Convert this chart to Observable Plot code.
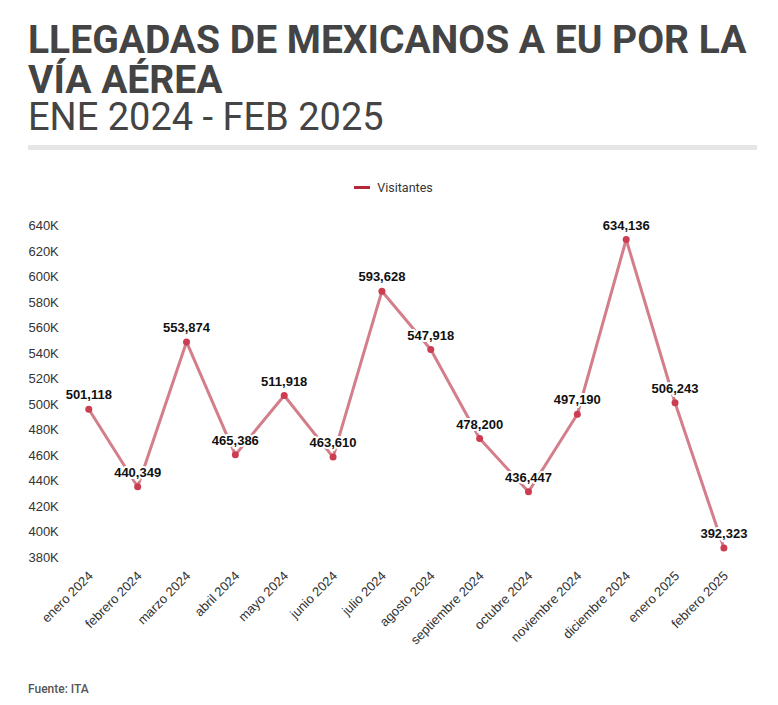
<!DOCTYPE html>
<html>
<head>
<meta charset="utf-8">
<script src="https://cdn.jsdelivr.net/npm/d3@7"></script>
<script src="https://cdn.jsdelivr.net/npm/@observablehq/plot@0.6"></script>
<style>
  body { margin: 0; background: #fff; font-family: Roboto, sans-serif; }
  #page { width: 778px; }
  header { padding: 19.5px 0 0 28px; color: #444; }
  .title { height: 40px; font: 700 39px/40px Roboto, sans-serif; white-space: nowrap; }
  .subtitle { height: 35px; font: 400 38px/35px Roboto, sans-serif; white-space: nowrap; }
  .rule { margin: 10.5px 0 0 28px; width: 729px; height: 5px; background: #e6e6e6; }
  .legend { margin-top: 28px; height: 18px; padding-left: 9px; display: flex; justify-content: center; align-items: center; font: 12.5px Roboto, sans-serif; color: #333; }
  .swatch { width: 16px; height: 3px; background: #b5283c; margin-right: 7px; }
  #chart svg { display: block; }
  footer { margin-top: 15px; padding-left: 28px; font: 500 12px/16px Roboto, sans-serif; color: #555; }
</style>
</head>
<body>
<div id="page">
  <header>
    <div class="title">LLEGADAS DE MEXICANOS A EU POR LA</div>
    <div class="title">VÍA AÉREA</div>
    <div class="subtitle">ENE 2024 - FEB 2025</div>
  </header>
  <div class="rule"></div>
  <div class="legend"><span class="swatch"></span><span>Visitantes</span></div>
  <div id="chart"></div>
  <footer>Fuente: ITA</footer>
</div>
<script>
// Monthly arrivals of Mexican visitors to the US by air
const months = [
  "enero 2024", "febrero 2024", "marzo 2024", "abril 2024", "mayo 2024",
  "junio 2024", "julio 2024", "agosto 2024", "septiembre 2024", "octubre 2024",
  "noviembre 2024", "diciembre 2024", "enero 2025", "febrero 2025"
];
const visitantes = [
  501118, 440349, 553874, 465386, 511918, 463610, 593628,
  547918, 478200, 436447, 497190, 634136, 506243, 392323
];
const yTicks = [
  380000, 400000, 420000, 440000, 460000, 480000, 500000,
  520000, 540000, 560000, 580000, 600000, 620000, 640000
];

const data = months.map((mes, i) => ({ mes, valor: visitantes[i] }));
const fmt = d3.format(",");

const chart = Plot.plot({
  width: 778,
  height: 470,
  marginLeft: 88.3,
  marginRight: 54.6,
  marginTop: 35.5,
  marginBottom: 102.7,
  style: { fontFamily: "'Liberation Sans', Arial, sans-serif", fontSize: "13px", color: "#333", background: "#fff" },
  x: { type: "point", domain: months, padding: 0, round: false },
  y: { domain: [380000, 640000] },
  marks: [
    Plot.axisY(yTicks, {
      tickSize: 0, tickPadding: 30, dy: -6,
      tickFormat: d => d / 1000 + "K", fill: "#333", label: null
    }),
    Plot.axisX({ tickSize: 0, tickPadding: 10, dx: 2, tickRotate: -45, fill: "#333", label: null }),
    Plot.line(data, { x: "mes", y: "valor", stroke: "#b5283c", strokeOpacity: 0.6, strokeWidth: 3 }),
    Plot.dot(data, { x: "mes", y: "valor", r: 3.5, fill: "#cc3d51", stroke: null }),
    Plot.text(data, {
      x: "mes", y: "valor", text: d => fmt(d.valor), dy: -14,
      fontWeight: "bold", fontSize: 13, fill: "#111", stroke: "#fff", strokeWidth: 4
    })
  ]
});
document.getElementById("chart").appendChild(chart);
</script>
</body>
</html>
